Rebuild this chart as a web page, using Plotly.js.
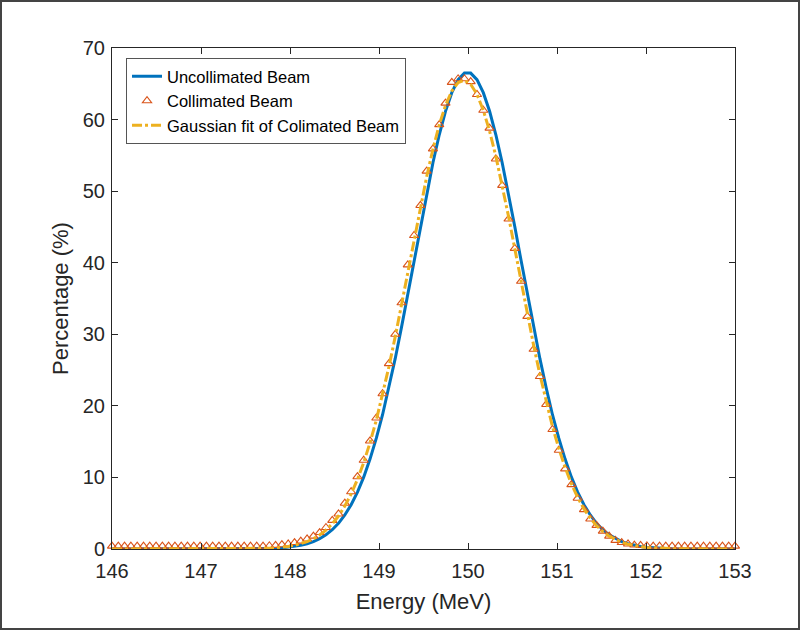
<!DOCTYPE html>
<html>
<head>
<meta charset="utf-8">
<script src="https://cdn.plot.ly/plotly-3.0.1.min.js"></script>
<style>
html,body{margin:0;padding:0;background:#fff;}
#wrap{position:relative;width:800px;height:630px;}
#chart{width:800px;height:630px;}
#frame{position:absolute;left:0;top:0;width:800px;height:630px;box-sizing:border-box;border:2px solid #444;pointer-events:none;}
</style>
</head>
<body>
<div id="wrap"><div id="chart"></div><div id="frame"></div></div>
<script>
// Energy grid (MeV)
const energy = [
146.000,146.071,146.141,146.212,146.283,146.354,146.424,146.495,146.566,146.636,
146.707,146.778,146.848,146.919,146.990,147.061,147.131,147.202,147.273,147.343,
147.414,147.485,147.556,147.626,147.697,147.768,147.838,147.909,147.980,148.051,
148.121,148.192,148.263,148.333,148.404,148.475,148.545,148.616,148.687,148.758,
148.828,148.899,148.970,149.040,149.111,149.182,149.253,149.323,149.394,149.465,
149.535,149.606,149.677,149.747,149.818,149.889,149.960,150.030,150.101,150.172,
150.242,150.313,150.384,150.455,150.525,150.596,150.667,150.737,150.808,150.879,
150.949,151.020,151.091,151.162,151.232,151.303,151.374,151.444,151.515,151.586,
151.657,151.727,151.798,151.869,151.939,152.010,152.081,152.152,152.222,152.293,
152.364,152.434,152.505,152.576,152.646,152.717,152.788,152.859,152.929,153.000];

// Uncollimated beam (%)
const uncollimated = [
0,0,0,0,0,0,0,0,0,0,
0,0,0,0,0,0,0,0,0,0,
0,0,0,0,0.02,0.04,0.08,0.15,0.24,0.35,
0.51,0.73,1.03,1.44,1.98,2.69,3.59,4.75,6.19,7.95,
10.04,12.56,15.48,18.76,22.50,26.59,31.00,35.57,40.33,45.09,
49.64,53.97,57.88,61.15,63.76,65.57,66.49,66.49,65.57,63.76,
61.19,57.88,53.97,49.64,45.09,40.33,35.57,31.00,26.59,22.50,
18.76,15.48,12.56,10.04,7.95,6.19,4.75,3.59,2.69,1.98,
1.44,1.03,0.73,0.51,0.35,0.24,0.16,0.10,0.07,0.04,
0.03,0.02,0,0,0,0,0,0,0,0];

// Collimated beam (%)
const collimated = [
0.4,0.4,0.4,0.4,0.4,0.4,0.4,0.4,0.4,0.4,
0.4,0.4,0.4,0.4,0.4,0.4,0.4,0.4,0.4,0.4,
0.4,0.4,0.4,0.4,0.4,0.45,0.5,0.6,0.7,0.9,
1.1,1.4,1.8,2.3,3.0,4.0,4.9,6.4,8.0,10.1,
12.4,15.1,18.3,21.7,25.9,30.0,34.4,39.7,43.8,48.0,
52.8,55.9,59.3,62.3,65.2,65.7,65.7,65.3,63.5,61.3,
58.8,54.5,50.8,46.1,42.0,37.4,32.5,27.9,24.1,20.2,
16.7,13.8,11.2,9.0,7.1,5.5,4.2,3.3,2.5,1.8,
1.2,0.9,0.7,0.55,0.5,0.45,0.4,0.4,0.4,0.4,
0.4,0.4,0.4,0.4,0.4,0.4,0.4,0.4,0.4,0.4];

// Gaussian fit of collimated beam (%)
const gaussFit = [
0,0,0,0,0,0,0,0,0,0,
0,0,0,0,0,0,0,0,0,0,
0,0,0,0,0.05,0.10,0.16,0.24,0.36,0.51,
0.73,1.03,1.43,1.95,2.64,3.52,4.61,6.00,7.69,9.71,
12.07,14.85,18.01,21.52,25.43,29.65,34.10,38.62,43.24,47.75,
51.97,55.87,59.26,61.97,63.99,65.17,65.49,64.94,63.53,61.30,
58.41,54.87,50.85,46.50,42.00,37.39,32.83,28.49,24.36,20.54,
17.09,14.06,11.39,9.10,7.20,5.60,4.30,3.26,2.44,1.80,
1.31,0.94,0.67,0.46,0.32,0.22,0.15,0.10,0.06,0.04,
0.03,0.02,0,0,0,0,0,0,0,0];

const seriesNames = ["Uncollimated Beam", "Collimated Beam", "Gaussian fit of Colimated Beam"];
const xTicks = [146,147,148,149,150,151,152,153];
const yTicks = [0,10,20,30,40,50,60,70];

const FONT = "Liberation Sans, Arial, Helvetica, sans-serif";
const INK = "#262626";

const traces = [
  {x: energy, y: uncollimated, name: seriesNames[0], type: "scatter", mode: "lines",
   line: {color: "#0072BD", width: 3}, cliponaxis: false},
  {x: energy, y: collimated, name: seriesNames[1], type: "scatter", mode: "markers",
   marker: {symbol: "triangle-up-open", size: 8, color: "#D95319", line: {width: 1.1, color: "#D95319"}},
   cliponaxis: false},
  {x: energy, y: gaussFit, name: seriesNames[2], type: "scatter", mode: "lines",
   line: {color: "#EDB120", width: 3, dash: "10px,3px,3px,3px"}, cliponaxis: false}
];

const axisCommon = {
  showline: true, mirror: "ticks", linecolor: INK, linewidth: 1,
  ticks: "inside", ticklen: 6, tickwidth: 1, tickcolor: INK,
  showgrid: false, zeroline: false,
  tickfont: {family: FONT, size: 20, color: INK}
};

const layout = {
  width: 800, height: 630,
  margin: {l: 112, r: 65, t: 48, b: 81},
  paper_bgcolor: "#fff", plot_bgcolor: "#fff",
  showlegend: true,
  legend: {x: 0.0225, y: 0.98, xanchor: "left", yanchor: "top",
    bgcolor: "#fff", bordercolor: "#555", borderwidth: 1,
    font: {family: FONT, size: 16.5, color: "#000"}, tracegroupgap: 0},
  xaxis: Object.assign({}, axisCommon, {
    range: [146, 153], tickvals: xTicks, ticktext: xTicks.map(String),
    ticklabelstandoff: 4,
    title: {text: "Energy (MeV)", font: {family: FONT, size: 22, color: INK}, standoff: 12}
  }),
  yaxis: Object.assign({}, axisCommon, {
    range: [0, 70], tickvals: yTicks, ticktext: yTicks.map(String),
    ticklabelstandoff: 2,
    title: {text: "Percentage (%)", font: {family: FONT, size: 22, color: INK}, standoff: 8}
  })
};

Plotly.newPlot("chart", traces, layout, {displayModeBar: false, staticPlot: true});
</script>
</body>
</html>
